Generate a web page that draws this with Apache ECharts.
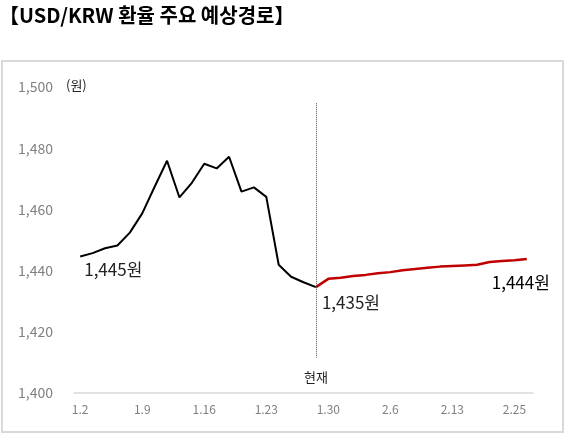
<!DOCTYPE html>
<html>
<head>
<meta charset="utf-8">
<script src="https://cdn.jsdelivr.net/npm/echarts@6/dist/echarts.min.js"></script>
<style>
html,body{margin:0;padding:0;background:#fff;}
#c{width:566px;height:436px;}
</style>
</head>
<body>
<div id="c"></div>
<script>
// Tick labels on the category axis (one entry per data point)
const xLabels = [
  '1.2','','','','','1.9','','','','','1.16','','','','','1.23','','','','',
  '1.30','','','','','2.6','','','','','2.13','','','','','2.25',''
];
// Actual path (black), index 0..19
const actual = [1444.6,1445.7,1447.3,1448.2,1452.4,1458.7,1467.4,1475.9,1463.9,1468.7,
  1474.9,1473.4,1477.2,1465.8,1467.2,1464.1,1441.9,1438.0,1436.2,1434.6];
// Forecast path (red), index 19..36
const forecast = [1434.6,1437.3,1437.7,1438.2,1438.6,1439.1,1439.5,1440.1,1440.5,1440.9,
  1441.3,1441.5,1441.7,1441.9,1442.8,1443.1,1443.4,1443.8];
const currentIndex = 19;
const startText = '1,445원', currentText = '1,435원', endText = '1,444원';
const yTicks = {min:1400, max:1500, interval:20};

const FONT = '"Noto Sans CJK KR", "Noto Sans", sans-serif';
const n = xLabels.length;
const blackData = [];
const redData = [];
for (let i = 0; i < n; i++) {
  blackData.push(i < actual.length ? actual[i] : null);
  redData.push(i >= currentIndex ? forecast[i - currentIndex] : null);
}
blackData[0] = {value: actual[0], label: {show:true, position:'right', distance:4, offset:[0,13], formatter: startText}};
blackData[currentIndex] = {value: actual[currentIndex], label: {show:true, position:'right', distance:4, offset:[2,15], formatter: currentText}};
redData[n-1] = {value: forecast[forecast.length-1], label: {show:true, position:'bottom', distance:5, offset:[-6,10], formatter: endText}};

const chart = echarts.init(document.getElementById('c'), null, {renderer:'canvas'});
chart.setOption({
  animation: false,
  textStyle: {fontFamily: FONT},
  grid: {left:74, right:33, top:87, bottom:43, containLabel:false},
  graphic: [
    {type:'rect', shape:{x:2, y:61, width:561, height:371}, style:{fill:'none', stroke:'#d9d9d9', lineWidth:2}, z:-1},
    {type:'text', left:-1, top:5, style:{text:'【USD/KRW 환율 주요 예상경로】', fontFamily:FONT, fontWeight:'bold', fontSize:20, fill:'#000'}},
    {type:'text', left:66, top:79, style:{text:'(원)', fontFamily:FONT, fontSize:13, fill:'#222'}}
  ],
  xAxis: {
    type:'category', data:xLabels, boundaryGap:true,
    axisLine:{show:true, lineStyle:{color:'#d9d9d9', width:1.5}},
    axisTick:{show:false},
    axisLabel:{interval:0, color:'#808080', fontSize:12, margin:10, fontFamily:FONT}
  },
  yAxis: {
    type:'value', min:yTicks.min, max:yTicks.max, interval:yTicks.interval,
    splitLine:{show:false}, axisLine:{show:false}, axisTick:{show:false},
    axisLabel:{color:'#808080', fontSize:14, margin:21, fontFamily:FONT,
      formatter: v => v.toLocaleString('en-US')}
  },
  series: [
    {type:'line', data:blackData, symbol:'circle', symbolSize:0, showSymbol:true, connectNulls:false,
      itemStyle:{color:'#000'},
      lineStyle:{color:'#000', width:2},
      label:{color:'#222', fontSize:17, fontFamily:FONT},
      markLine:{silent:true, symbol:'none',
        lineStyle:{color:'#555', type:'dotted', width:1},
        label:{show:true, position:'end', distance:13, formatter:'현재', color:'#222', fontSize:13, fontFamily:FONT},
        data:[[{coord:[currentIndex, 1494.7]}, {coord:[currentIndex, 1411.5]}]]}
    },
    {type:'line', data:redData, symbol:'circle', symbolSize:0, showSymbol:true, connectNulls:false,
      itemStyle:{color:'#c00000'},
      lineStyle:{color:'#c00000', width:2.5},
      label:{color:'#000', fontSize:17, fontFamily:FONT}
    }
  ]
});
</script>
</body>
</html>
